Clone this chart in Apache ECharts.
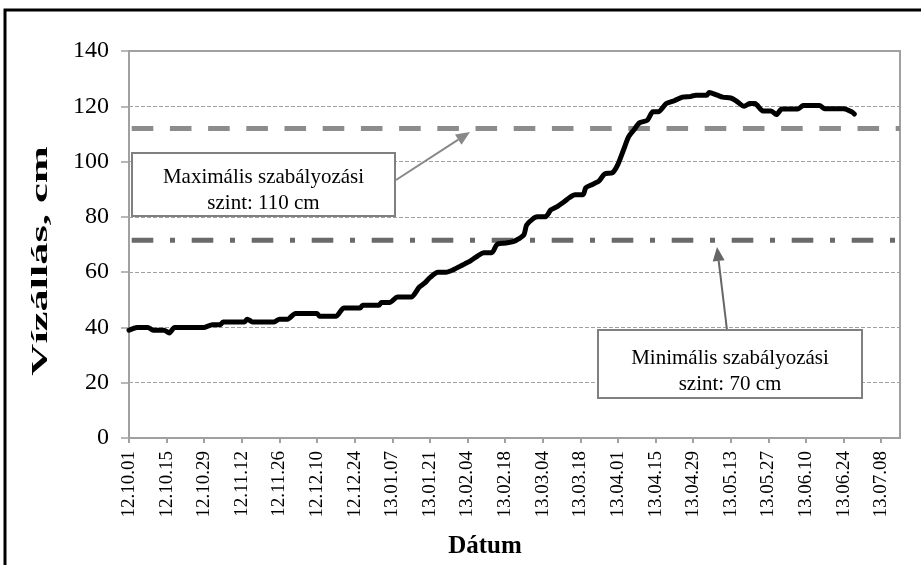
<!DOCTYPE html>
<html>
<head>
<meta charset="utf-8">
<script src="https://cdn.jsdelivr.net/npm/echarts@6/dist/echarts.min.js"></script>
<style>html,body{margin:0;padding:0;background:#fff}#c{width:921px;height:565px}</style>
</head>
<body>
<div id="c"></div>
<script>
// ---- data ----
const axisStart = '2012-10-01';
const axisEndDays = 287;          // axis runs to 2013-07-15
const tickDays = 14;
const dates = [
 '2012-10-01','2012-10-04','2012-10-08','2012-10-10','2012-10-14','2012-10-16','2012-10-18','2012-10-29',
 '2012-11-01','2012-11-04','2012-11-05','2012-11-13','2012-11-14','2012-11-16','2012-11-24','2012-11-26',
 '2012-11-29','2012-12-02','2012-12-10','2012-12-11','2012-12-17','2012-12-20','2012-12-26','2012-12-27',
 '2013-01-02','2013-01-03','2013-01-06','2013-01-09','2013-01-14','2013-01-17','2013-01-19','2013-01-21',
 '2013-01-24','2013-01-27','2013-01-30','2013-02-01','2013-02-03','2013-02-05','2013-02-08','2013-02-10',
 '2013-02-13','2013-02-15','2013-02-18','2013-02-21','2013-02-23','2013-02-25','2013-02-26','2013-02-28',
 '2013-03-02','2013-03-05','2013-03-07','2013-03-09','2013-03-12','2013-03-14','2013-03-16','2013-03-19',
 '2013-03-20','2013-03-22','2013-03-25','2013-03-27','2013-03-30','2013-04-01','2013-04-03','2013-04-05',
 '2013-04-07','2013-04-09','2013-04-12','2013-04-14','2013-04-16','2013-04-19','2013-04-22','2013-04-25',
 '2013-04-28','2013-04-30','2013-05-04','2013-05-05','2013-05-08','2013-05-10','2013-05-13','2013-05-15',
 '2013-05-18','2013-05-20','2013-05-22','2013-05-25','2013-05-28','2013-05-30','2013-06-01','2013-06-07',
 '2013-06-09','2013-06-15','2013-06-17','2013-06-24','2013-06-27','2013-06-28'
];
const levels = [
 39,40,40,39,39,38,40,40,
 41,41,42,42,43,42,42,43,
 43,45,45,44,44,47,47,48,
 48,49,49,51,51,54.5,56,58,
 60,60,61,62,63,64,66,67,
 67,70,70.5,71,72,73.5,77,79,
 80,80,82.5,83.5,85.5,87,88,88,
 90.5,91.5,93,95.5,96,99,104,109,
 111.5,114,115,118,118,121,122,123.3,
 123.5,124,124,125,124,123.3,123,122,
 120,121,121,118.3,118.3,117,119,119,
 120.3,120.3,119.1,119.1,118,117.2
];
const maxRegLevel = 112;   // drawn position of the "110 cm" line
const minRegLevel = 71.5;  // drawn position of the "70 cm" line
const yTicks = {min: 0, max: 140, interval: 20};
const maxText = 'Maximális szabályozási\nszint: 110 cm';
const minText = 'Minimális szabályozási\nszint: 70 cm';
const yName = 'Vízállás, cm';
const xName = 'Dátum';

// ---- helpers ----
function dayIndex(s){
  const a = s.split('-').map(Number), b = axisStart.split('-').map(Number);
  return Math.round((Date.UTC(a[0],a[1]-1,a[2]) - Date.UTC(b[0],b[1]-1,b[2]))/86400000);
}
function dayLabel(v){
  const b = axisStart.split('-').map(Number);
  const d = new Date(Date.UTC(b[0],b[1]-1,b[2]) + Math.round(v)*86400000);
  const p = n => String(n).padStart(2,'0');
  return p(d.getUTCFullYear()%100)+'.'+p(d.getUTCMonth()+1)+'.'+p(d.getUTCDate());
}
const series1 = dates.map((d,i)=>[dayIndex(d), levels[i]]);
const FONT = "'Liberation Serif','Times New Roman',serif";

function arrow(x1,y1,x2,y2,color){
  const ang = Math.atan2(y2-y1,x2-x1), L=14, W=6;
  const bx = x2 - L*Math.cos(ang), by = y2 - L*Math.sin(ang);
  const nx = -Math.sin(ang), ny = Math.cos(ang);
  return [
    {type:'line', shape:{x1:x1,y1:y1,x2:bx,y2:by}, style:{stroke:color,lineWidth:2}, z:10},
    {type:'polygon', shape:{points:[[x2,y2],[bx+nx*W,by+ny*W],[bx-nx*W,by-ny*W]]}, style:{fill:color}, z:10}
  ];
}
function box(x,y,w,h,text,tcx,tcy){
  return [
    {type:'rect', shape:{x:x,y:y,width:w,height:h}, style:{fill:'#fff',stroke:'#808080',lineWidth:2}, z:11},
    {type:'text', x:tcx, y:tcy, z:12, style:{text:text, font:"21px "+FONT, fill:'#000', textAlign:'center', textVerticalAlign:'middle', lineHeight:26}}
  ];
}

const chart = echarts.init(document.getElementById('c'), null, {renderer:'canvas'});
chart.setOption({
  animation:false,
  backgroundColor:'#fff',
  grid:{left:129, right:21, top:51, bottom:127, show:true, borderColor:'#a0a0a0', borderWidth:2, backgroundColor:'transparent'},
  xAxis:{
    type:'value', min:0, max:axisEndDays, interval:tickDays,
    axisLine:{show:true, onZero:false, lineStyle:{color:'#a0a0a0', width:2}},
    axisTick:{show:true, length:5, lineStyle:{color:'#a0a0a0', width:2}},
    splitLine:{show:false},
    axisLabel:{rotate:90, margin:13, color:'#000', fontFamily:FONT, fontSize:19,
      formatter:v => (Math.round(v) % tickDays === 0 && v <= 281) ? dayLabel(v) : '',
      showMaxLabel:false}
  },
  yAxis:{
    type:'value', min:yTicks.min, max:yTicks.max, interval:yTicks.interval,
    axisLine:{show:true, lineStyle:{color:'#a0a0a0', width:2}},
    axisTick:{show:true, length:8, lineStyle:{color:'#a0a0a0', width:1.5}},
    splitLine:{show:true, lineStyle:{color:'#a0a0a0', width:1, type:[4,2]}},
    axisLabel:{margin:20, color:'#000', fontFamily:FONT, fontSize:24}
  },
  series:[
    {type:'line', name:'max', data:[[0,maxRegLevel],[axisEndDays,maxRegLevel]], symbol:'none', silent:true,
      lineStyle:{color:'#8c8c8c', width:5, type:[21.6,16.6], dashOffset:-2.7, cap:'butt'}, z:3},
    {type:'line', name:'min', data:[[0,minRegLevel],[axisEndDays,minRegLevel]], symbol:'none', silent:true,
      lineStyle:{color:'#6a6a6a', width:5, type:[21.6,16.7,5,16.7], dashOffset:-2.7, cap:'butt'}, z:3},
    {type:'line', name:'vízállás', data:series1, symbol:'none', smooth:0.25,
      lineStyle:{color:'#000', width:5, join:'round', cap:'round'}, z:5}
  ],
  graphic:[
    {type:'rect', shape:{x:5,y:10,width:1000,height:1000}, style:{fill:'transparent',stroke:'#000',lineWidth:3}, z:20},
    {type:'text', x:41, y:261, rotation:Math.PI/2, scaleX:1.85, z:12,
      style:{text:yName, font:"bold 24px "+FONT, fill:'#000', textAlign:'center', textVerticalAlign:'middle'}},
    {type:'text', x:485, y:547, z:12,
      style:{text:xName, font:"bold 25px "+FONT, fill:'#000', textAlign:'center', textVerticalAlign:'middle'}},
    ...arrow(396,180,470,132,'#888888'),
    ...box(132,153,263,63,maxText,263.5,190),
    ...arrow(727,330,717,247,'#666666'),
    ...box(598,330,264,68,minText,730,371)
  ]
});
</script>
</body>
</html>
